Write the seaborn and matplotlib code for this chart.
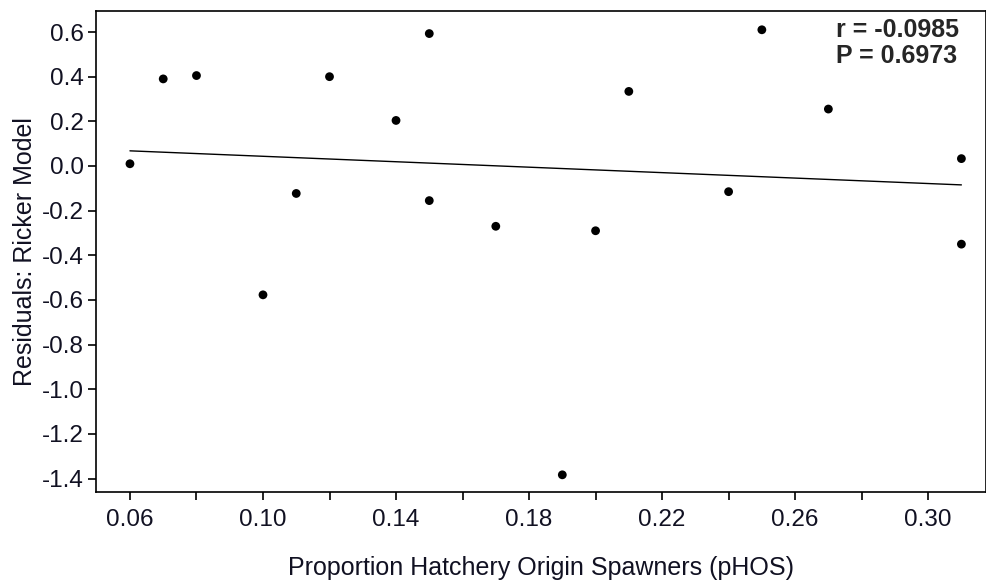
import numpy as np
import pandas as pd
import seaborn as sns
import matplotlib.pyplot as plt
from matplotlib.ticker import MultipleLocator

# pHOS values and Ricker model residuals
phos = [0.06, 0.07, 0.08, 0.10, 0.11, 0.12, 0.14, 0.15, 0.15,
        0.17, 0.19, 0.20, 0.21, 0.24, 0.25, 0.27, 0.31, 0.31]
residuals = [0.01, 0.39, 0.405, -0.577, -0.123, 0.40, 0.204, 0.593, -0.155,
             -0.27, -1.383, -0.29, 0.334, -0.115, 0.61, 0.255, 0.033, -0.35]

x_ticks = [0.06, 0.10, 0.14, 0.18, 0.22, 0.26, 0.30]
y_ticks = [-1.4, -1.2, -1.0, -0.8, -0.6, -0.4, -0.2, 0.0, 0.2, 0.4, 0.6]
stats_text = "r = -0.0985\nP = 0.6973"

df = pd.DataFrame({"pHOS": phos, "resid": residuals})

sns.set_theme(style="ticks")
plt.rcParams["font.family"] = ["Liberation Sans", "DejaVu Sans"]

fig = plt.figure(figsize=(9.87, 5.80), dpi=100)
ax = fig.add_axes([0.0973, 0.1517, 0.9017, 0.8293])

sns.regplot(data=df, x="pHOS", y="resid", ax=ax, ci=None,
            scatter_kws={"color": "black", "s": 40, "edgecolor": "none", "alpha": 1},
            line_kws={"color": "black", "linewidth": 1.0})

ax.set_xlim(0.0498, 0.3174)
ax.set_ylim(-1.46, 0.694)

ax.set_xticks(x_ticks)
ax.set_xticklabels([f"{v:.2f}" for v in x_ticks])
ax.xaxis.set_minor_locator(MultipleLocator(0.02))
ax.set_yticks(y_ticks)
ax.set_yticklabels([f"{v:.1f}" for v in y_ticks])

txt_col = "#111122"
ax.tick_params(axis="both", which="both", direction="out", color="black",
               labelcolor=txt_col, labelsize=17.5, width=1.2, length=6)
ax.tick_params(axis="y", pad=3)
ax.tick_params(axis="x", which="both", pad=6)

for side in ["left", "bottom", "top", "right"]:
    ax.spines[side].set_visible(True)
    ax.spines[side].set_color("black")
    ax.spines[side].set_linewidth(1.2)

ax.set_xlabel("Proportion Hatchery Origin Spawners (pHOS)", fontsize=18,
              color=txt_col, labelpad=18)
ax.set_ylabel("Residuals: Ricker Model", fontsize=18, color=txt_col)
ax.yaxis.set_label_coords(-0.066, 0.5)

ax.text(0.8315, 0.986, stats_text, transform=ax.transAxes, fontsize=18,
        fontweight="bold", va="top", ha="left", linespacing=1.11)

fig.savefig("out.png", dpi=100)
